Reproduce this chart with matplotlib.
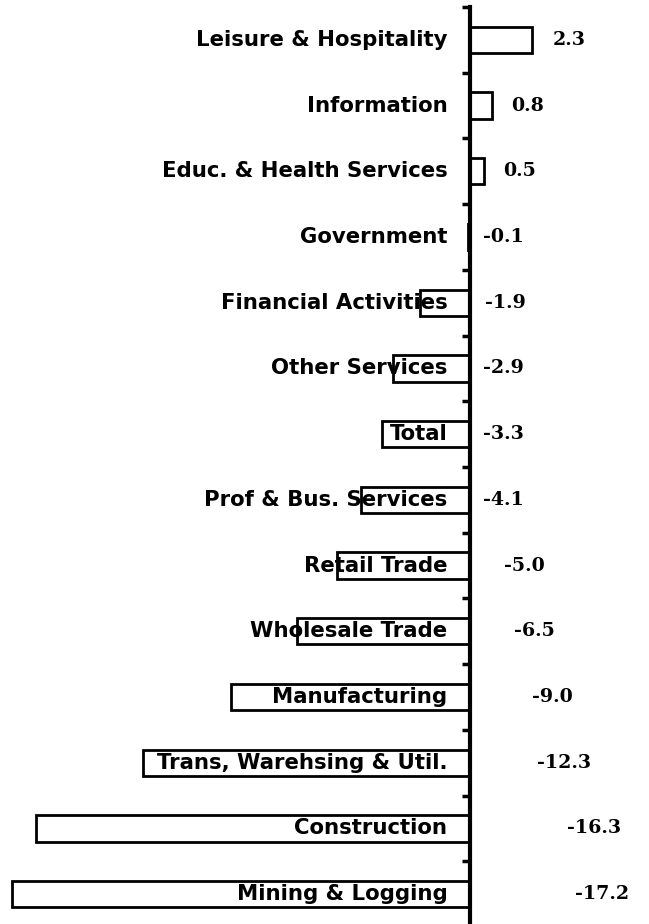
import numpy as np
import matplotlib.pyplot as plt

# --- dati ---
categorie = ['Leisure & Hospitality', 'Information', 'Educ. & Health Services',
             'Government', 'Financial Activities', 'Other Services', 'Total',
             'Prof & Bus. Services', 'Retail Trade', 'Wholesale Trade',
             'Manufacturing', 'Trans, Warehsing & Util.', 'Construction',
             'Mining & Logging']
valori = [2.3, 0.8, 0.5, -0.1, -1.9, -2.9, -3.3, -4.1, -5.0, -6.5, -9.0,
          -12.3, -16.3, -17.2]

# posizione orizzontale delle etichette dei valori (pixel a destra dell'asse)
offset_etichette = [82, 41, 33, 13, 15, 13, 13, 13, 34, 44, 62, 67, 97, 105]

W, H, DPI = 649, 924, 100
fig = plt.figure(figsize=(W / DPI, H / DPI), dpi=DPI)
ax = fig.add_axes([0, -3 / H, 1, 920 / H])

y = np.arange(len(categorie))
ax.barh(y, valori, height=0.40, color='white', edgecolor='black', linewidth=2.0, zorder=2)

px2pt = 72 / DPI
for i, (cat, v) in enumerate(zip(categorie, valori)):
    ax.annotate(cat, xy=(0, i), xytext=(-23 * px2pt, 0), textcoords='offset points',
                ha='right', va='center', fontsize=15.3, fontweight='bold',
                family='DejaVu Sans', zorder=3)
    ax.annotate(f'{v:.1f}', xy=(0, i), xytext=(offset_etichette[i] * px2pt, 0),
                textcoords='offset points', ha='left', va='center',
                fontsize=13.7, fontweight='bold', family='DejaVu Serif', zorder=3)

# scala: asse a x=470 px, barra minima a x=12 px
ax.set_xlim(-17.65, 6.7)
ax.set_ylim(len(categorie) - 0.5, -0.5)

ax.set_xticks([])
ax.set_yticks(np.arange(-0.5, len(categorie) + 0.5, 1))
ax.set_yticklabels([])
ax.tick_params(axis='y', direction='out', length=6, width=2.5, color='black')

for s in ['top', 'right', 'bottom']:
    ax.spines[s].set_visible(False)
ax.spines['left'].set_position(('data', 0))
ax.spines['left'].set_linewidth(3)
ax.spines['left'].set_zorder(4)
ax.patch.set_visible(False)

fig.savefig('out.png', dpi=DPI)
